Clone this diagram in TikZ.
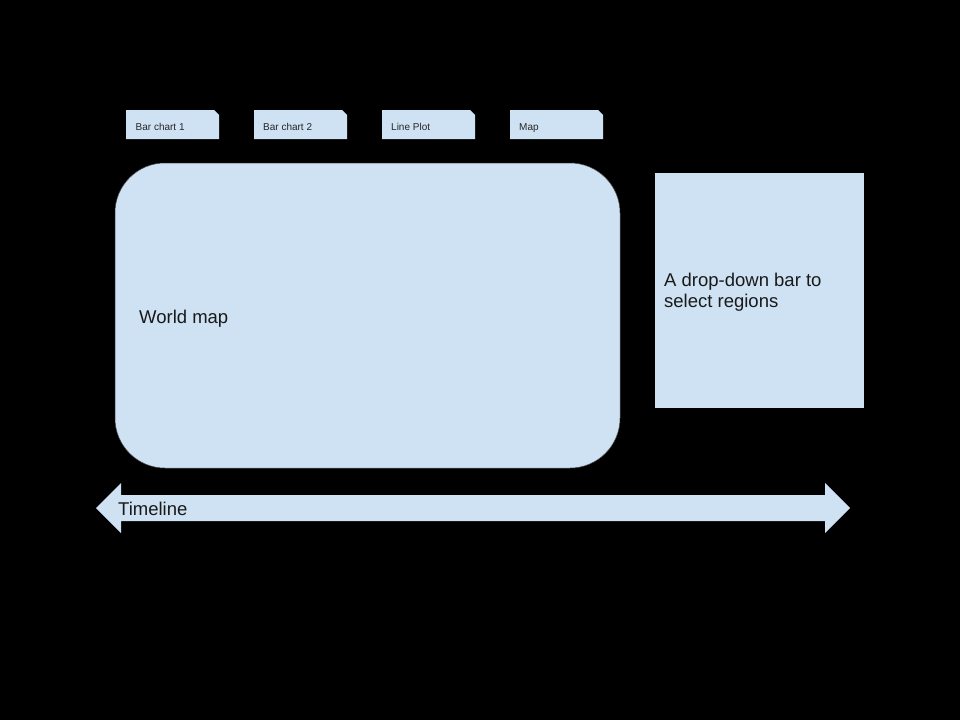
\documentclass[tikz,border=0pt]{standalone}
\usepackage{fontspec}
\setmainfont{Liberation Sans}
\definecolor{panel}{HTML}{CFE2F3}
\begin{document}
\begin{tikzpicture}[x=1pt,y=-1pt,
  tabtext/.style={font=\fontsize{10}{12}\selectfont, anchor=base west, inner sep=0pt, text=black!85},
  bigtext/.style={font=\fontsize{18.5}{21}\selectfont, inner sep=0pt, text=black!90}]
\fill[black] (0,0) rectangle (960,720);
\useasboundingbox (0,0) rectangle (960,720);
% tabs
\foreach \x/\name in {126/t1,254/t2,382/t3,510/t4}{
  \fill[panel] (\x,110) -- ++(88,0) -- ++(5,5) -- ++(0,24) -- ++(-93,0) -- cycle;
  \coordinate (\name) at (\x,130);
}
\node[tabtext] (l1) at ([xshift=9.5pt]t1) {Bar chart 1};
\node[tabtext] (l2) at ([xshift=9pt]t2) {Bar chart 2};
\node[tabtext] (l3) at ([xshift=9pt]t3) {Line Plot};
\node[tabtext] (l4) at ([xshift=9pt]t4) {Map};
% world map
\draw[fill=panel, draw=black!70, line width=0.5pt, rounded corners=50pt] (115,163) rectangle (620,468);
\node[bigtext, anchor=base west] (wm) at (139,323) {World map};
% right box
\fill[panel] (655,173) rectangle (864,408);
\node[bigtext, anchor=north west, align=left] (dd) at (664,273) {A drop-down bar to\\select regions};
% timeline
\fill[panel] (96,508) -- (121,483) -- (121,495) -- (825,495) -- (825,483) -- (850,508)
  -- (825,533) -- (825,521) -- (121,521) -- (121,533) -- cycle;
\node[bigtext, anchor=base west] (tl) at (118,515) {Timeline};
\end{tikzpicture}
\end{document}
